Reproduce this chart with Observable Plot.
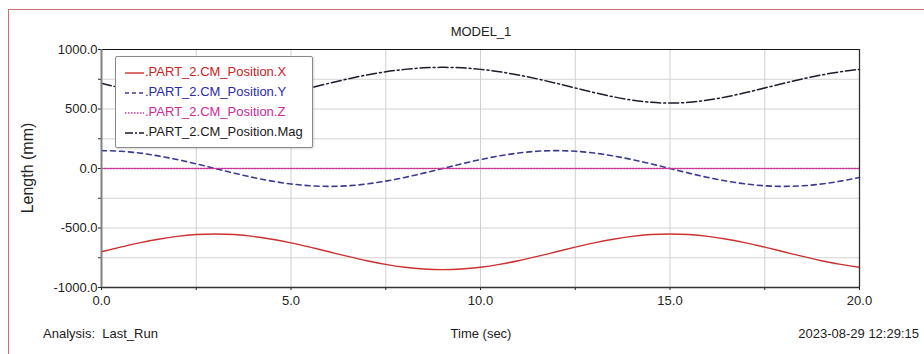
<!DOCTYPE html>
<html>
<head>
<meta charset="utf-8">
<script src="https://cdn.jsdelivr.net/npm/d3@7"></script>
<script src="https://cdn.jsdelivr.net/npm/@observablehq/plot@0.6"></script>
<style>
  html, body { margin: 0; padding: 0; background: #fff; }
  #wrap { position: relative; width: 924px; height: 354px; overflow: hidden; font-family: "Liberation Sans", Arial, sans-serif; color: #222; }
  #border { position: absolute; left: 8px; top: 9px; width: 940px; height: 400px; border-left: 1px solid #d27070; border-top: 1px solid #d27070; box-sizing: border-box; pointer-events: none; }
  .lbl { position: absolute; font-size: 13px; white-space: nowrap; color: #222; }
  #legend { position: absolute; left: 115px; top: 56px; width: 198px; height: 92px; box-sizing: border-box; border: 1px solid #8a8a8a; border-radius: 2px; background: #fff; box-shadow: 1px 1px 2px rgba(0,0,0,0.15); font-size: 13px; }
  .row { position: absolute; left: 8px; height: 20px; line-height: 20px; white-space: nowrap; }
  .row svg { vertical-align: middle; margin-right: 1px; }
</style>
</head>
<body>
<div id="wrap">
  <div id="chart"></div>
  <div id="border"></div>
  <div class="lbl" style="left:0;width:962px;top:24px;text-align:center;">MODEL_1</div>
  <div class="lbl" style="left:28px;top:168px;font-size:16px;transform:translate(-50%,-50%) rotate(-90deg);">Length (mm)</div>
  <div class="lbl" style="left:43px;top:326px;">Analysis:&nbsp; Last_Run</div>
  <div class="lbl" style="left:0;width:962px;top:326px;text-align:center;">Time (sec)</div>
  <div class="lbl" style="right:5px;top:326px;">2023-08-29 12:29:15</div>
  <div id="legend"></div>
</div>
<script>
// ---- data ----
const time = [0,0.5,1,1.5,2,2.5,3,3.5,4,4.5,5,5.5,6,6.5,7,7.5,8,8.5,9,9.5,10,10.5,11,11.5,12,12.5,13,13.5,14,14.5,15,15.5,16,16.5,17,17.5,18,18.5,19,19.5,20];
const posX = [-700,-661,-625,-594,-570,-555,-550,-555,-570,-594,-625,-661,-700,-739,-775,-806,-830,-845,-850,-845,-830,-806,-775,-739,-700,-661,-625,-594,-570,-555,-550,-555,-570,-594,-625,-661,-700,-739,-775,-806,-830];
const posY = [150,145,130,106,75,39,0,-39,-75,-106,-130,-145,-150,-145,-130,-106,-75,-39,0,39,75,106,130,145,150,145,130,106,75,39,0,-39,-75,-106,-130,-145,-150,-145,-130,-106,-75];
const posZ = [0,0,0,0,0,0,0,0,0,0,0,0,0,0,0,0,0,0,0,0,0,0,0,0,0,0,0,0,0,0,0,0,0,0,0,0,0,0,0,0,0];
const posMag = [716,677,638,603,575,556,550,556,575,603,638,677,716,753,786,813,833,846,850,846,833,813,786,753,716,677,638,603,575,556,550,556,575,603,638,677,716,753,786,813,833];

const seriesNames = [".PART_2.CM_Position.X", ".PART_2.CM_Position.Y", ".PART_2.CM_Position.Z", ".PART_2.CM_Position.Mag"];
const yTicks = [-1000,-750,-500,-250,0,250,500,750,1000];
const yLabeled = [-1000,-500,0,500,1000];
const xTicks = [0,2.5,5,7.5,10,12.5,15,17.5,20];
const xLabeled = [0,5,10,15,20];

const styles = [
  {stroke: "#cc3030", text: "#cc2222", dash: null, width: 1.4},
  {stroke: "#3b3b92", text: "#2a2aa8", dash: "5,4", width: 1.6},
  {stroke: "#cc3399", text: "#cc2a9a", dash: "1.5,1.5", width: 1.4},
  {stroke: "#1c1c2c", text: "#1a1a1a", dash: "10,3,2,3", width: 1.5}
];
const values = [posX, posY, posZ, posMag];

const marks = [
  Plot.ruleY(yTicks.filter(d => d > -1000 && d < 1000), {stroke: "#d4d4d4", strokeWidth: 1}),
  Plot.ruleX(xTicks.filter(d => d > 0 && d < 20), {stroke: "#d0d0d0", strokeWidth: 1}),
  Plot.ruleY([0], {stroke: "#e07a90", strokeWidth: 1}),
  Plot.axisY({ticks: yTicks, tickSize: 3, tickPadding: 1, fontSize: 13, label: null,
    tickFormat: d => yLabeled.includes(d) ? d.toFixed(1) : ""}),
  Plot.axisX({ticks: xTicks, tickSize: 3, tickPadding: 5, fontSize: 13, label: null,
    tickFormat: d => xLabeled.includes(d) ? d.toFixed(1) : ""})
];
values.forEach((vals, i) => {
  const rows = time.map((t, j) => ({t, v: vals[j]}));
  marks.push(Plot.line(rows, {x: "t", y: "v", stroke: styles[i].stroke, strokeWidth: styles[i].width,
    strokeDasharray: styles[i].dash, curve: "monotone-x"}));
});
marks.push(
  Plot.ruleY([1000], {stroke: "#111", strokeWidth: 1.2}),
  Plot.ruleY([-1000], {stroke: "#333", strokeWidth: 1.5}),
  Plot.ruleX([0], {stroke: "#808080", strokeWidth: 2}),
  Plot.ruleX([20], {stroke: "#333", strokeWidth: 1.3})
);

const chart = Plot.plot({
  width: 924,
  height: 354,
  marginLeft: 101,
  marginRight: 65,
  marginTop: 49,
  marginBottom: 67,
  style: {fontFamily: "'Liberation Sans', Arial, sans-serif", fontSize: "13px", color: "#222", background: "transparent"},
  x: {domain: [0, 20]},
  y: {domain: [-1000, 1000]},
  marks
});
document.getElementById("chart").appendChild(chart);

// legend
const legend = document.getElementById("legend");
seriesNames.forEach((name, i) => {
  const row = document.createElement("div");
  row.className = "row";
  row.style.top = (5 + i * 20) + "px";
  const s = styles[i];
  row.innerHTML = `<svg width="20" height="6"><line x1="1" x2="20" y1="3" y2="3" stroke="${s.stroke}" stroke-width="1.4" ${s.dash ? `stroke-dasharray="${i===3 ? '8,2,2,2' : i===1 ? '4,3' : s.dash}"` : ""}/></svg><span style="color:${s.text}">${name}</span>`;
  legend.appendChild(row);
});
</script>
</body>
</html>
